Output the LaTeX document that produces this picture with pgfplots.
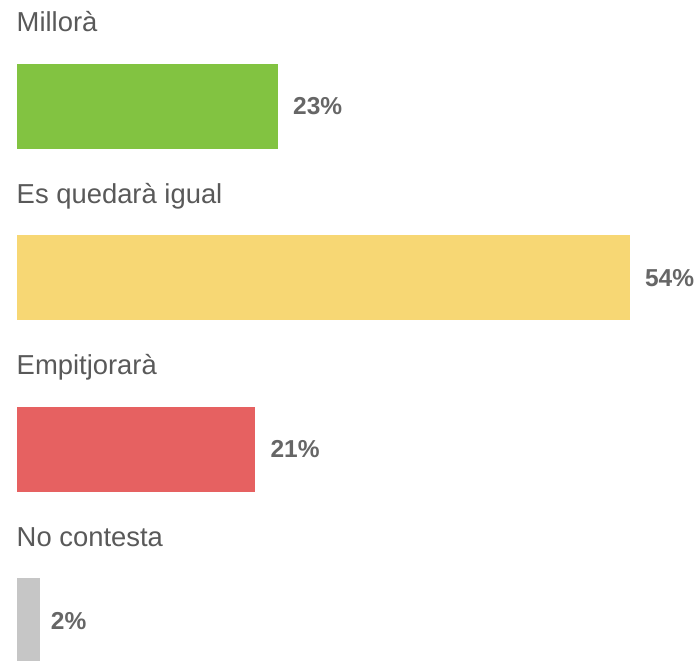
\documentclass[border=0pt]{standalone}
\usepackage{fontspec}
\setmainfont{Liberation Sans}
\usepackage{pgfplots}
\pgfplotsset{compat=1.18}
\definecolor{cgreen}{HTML}{82C341}
\definecolor{cyellow}{HTML}{F7D774}
\definecolor{cred}{HTML}{E66161}
\definecolor{cgray}{HTML}{C6C6C6}
\definecolor{labelgray}{HTML}{595959}
\definecolor{valuegray}{HTML}{666666}

\begin{document}
\begin{tikzpicture}
\path[use as bounding box] (0,0) rectangle (699bp,661bp);
\begin{axis}[
  at={(17bp,0bp)}, anchor=south west,
  scale only axis,
  width=682bp, height=661bp,
  xbar, bar width=85bp, bar shift=0pt,
  xmin=0, xmax=60.09,
  ymin=-0.62, ymax=3.234, y dir=reverse,
  axis line style={draw=none},
  tick style={draw=none},
  xtick=\empty,
  ytick={0,1,2,3},
  yticklabels={Millorà,Es quedarà igual,Empitjorarà,No contesta},
  yticklabel style={anchor=base west, inner sep=0pt, outer sep=0pt,
    xshift=4bp, yshift=74.5bp, text=labelgray, font=\fontsize{27.4bp}{31bp}\selectfont},
  nodes near coords={\pgfmathprintnumber[assume math mode=true]{\pgfplotspointmeta}\%},
  nodes near coords style={anchor=west, inner sep=0pt, xshift=15bp,
    text=valuegray, font=\fontsize{24.5bp}{28bp}\selectfont\bfseries},
  point meta=x,
]
\addplot[fill=cgreen, draw=none] coordinates {(23,0)};
\addplot[fill=cyellow, draw=none] coordinates {(54,1)};
\addplot[fill=cred, draw=none] coordinates {(21,2)};
\addplot[fill=cgray, draw=none, nodes near coords style={xshift=-4bp}] coordinates {(2,3)};
\end{axis}
\end{tikzpicture}
\end{document}
